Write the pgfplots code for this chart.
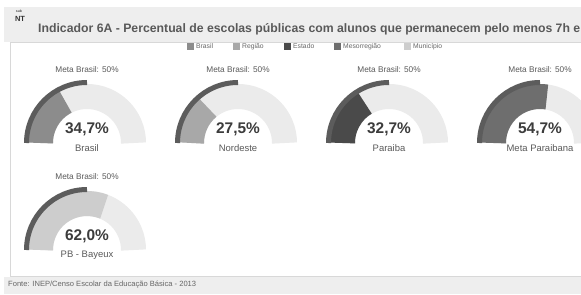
\documentclass[border=0pt]{standalone}
\usepackage{pgfplots}
\pgfplotsset{compat=1.18}
\usepackage{fontspec}
\setmainfont{Liberation Sans}
\definecolor{bandgray}{HTML}{EEEEEE}
\definecolor{panelline}{HTML}{D8D8D8}
\definecolor{gbg}{HTML}{EBEBEB}
\definecolor{metac}{HTML}{5C5C5C}
\definecolor{cBrasil}{HTML}{8C8C8C}
\definecolor{cRegiao}{HTML}{A8A8A8}
\definecolor{cEstado}{HTML}{4A4A4A}
\definecolor{cMeso}{HTML}{6E6E6E}
\definecolor{cMun}{HTML}{CDCDCD}
\definecolor{txt}{HTML}{3C3C3C}
\definecolor{txtl}{HTML}{5A5A5A}

% #1 cx, #2 baseline y, #3 value (%), #4 colour, #5 value text, #6 name
\newcommand{\gauge}[6]{%
\pgfmathsetmacro{\gx}{#1-70}\pgfmathsetmacro{\gy}{#2-20}%
\begin{axis}[at={(\gx bp,\gy bp)}, anchor=south west, x=1bp, y=1bp,
  xmin=-70, xmax=70, ymin=-20, ymax=80, hide axis, clip=false]
  \addplot[draw=none, forget plot] coordinates {(0,0)};
  \draw[line width=25bp, color=gbg] (axis cs:-46.5,0) arc[start angle=180, end angle=0, radius=46.5bp];
  \draw[line width=25bp, color=#4] (axis cs:-46.5,0) arc[start angle=180, end angle={180-1.8*#3}, radius=46.5bp];
  \draw[line width=5bp, color=metac] (axis cs:-60.5,0) arc[start angle=180, end angle=90, radius=60.5bp];
  \node[font=\fontsize{8.3}{9}\selectfont, text=txtl] at (axis cs:0,73) {Meta Brasil: 50\%};
  \node[font=\fontsize{15.5}{16}\selectfont\bfseries, text=txt] at (axis cs:0,14) {#5};
  \node[font=\fontsize{9.5}{10}\selectfont, text=txtl] at (axis cs:0,-5) {#6};
\end{axis}}

\begin{document}
\begin{tikzpicture}[x=1bp,y=1bp]
\useasboundingbox (0,0) rectangle (581,294);
\clip (0,0) rectangle (581,294);
\fill[white] (0,0) rectangle (581,294);
% title band
\fill[bandgray] (4,252) rectangle (581,287);
% panel
\draw[panelline] (10,18) rectangle (600,252);
% footer band
\fill[bandgray] (4,0) rectangle (581,17);
% logo
\node[font=\fontsize{3.5}{3.5}\selectfont\bfseries, text=black!70] at (19,283) {sub};
\node[font=\fontsize{7.5}{7.5}\selectfont\bfseries, text=black!80] at (20,275) {NT};
% title
\node[anchor=west, font=\fontsize{12.3}{13}\selectfont\bfseries, text=black!65, inner sep=0pt] at (38,265)
  {Indicador 6A - Percentual de escolas públicas com alunos que permanecem pelo menos 7h em};
% legend
\begin{scope}[font=\fontsize{6.8}{7}\selectfont, text=black!60]
\fill[cBrasil] (187,244) rectangle (194,251); \node[anchor=west, inner sep=1pt] at (195,247.5) {Brasil};
\fill[cRegiao] (233,244) rectangle (240,251); \node[anchor=west, inner sep=1pt] at (241,247.5) {Região};
\fill[cEstado] (284,244) rectangle (291,251); \node[anchor=west, inner sep=1pt] at (292,247.5) {Estado};
\fill[cMeso] (334,244) rectangle (341,251); \node[anchor=west, inner sep=1pt] at (342,247.5) {Mesorregião};
\fill[cMun] (404,244) rectangle (411,251); \node[anchor=west, inner sep=1pt] at (412,247.5) {Município};
\end{scope}
% gauges
\gauge{87}{151}{34.7}{cBrasil}{34,7\%}{Brasil}
\gauge{238}{151}{27.5}{cRegiao}{27,5\%}{Nordeste}
\gauge{389}{151}{32.7}{cEstado}{32,7\%}{Paraiba}
\gauge{540}{151}{54.7}{cMeso}{54,7\%}{Meta Paraibana}
\gauge{87}{44}{62.0}{cMun}{62,0\%}{PB - Bayeux}
% footer
\node[anchor=west, font=\fontsize{7.6}{8}\selectfont, text=black!60, inner sep=0pt] at (8,9)
  {Fonte: INEP/Censo Escolar da Educação Básica - 2013};
\end{tikzpicture}
\end{document}
